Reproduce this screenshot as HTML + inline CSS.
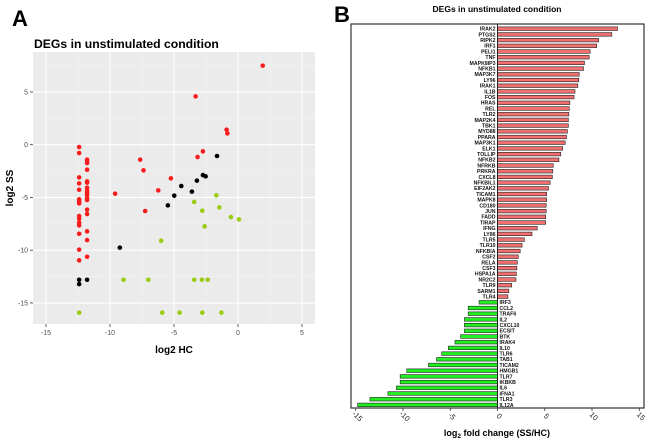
<!DOCTYPE html>
<html><head><meta charset="utf-8"><style>
body{margin:0;background:#fff;font-family:"Liberation Sans",sans-serif;}
svg{display:block}
</style></head><body>
<svg id="s" width="650" height="442" viewBox="0 0 650 442" xmlns="http://www.w3.org/2000/svg">
<text x="12" y="26" font-size="22" font-weight="bold">A</text>
<text x="334" y="22" font-size="22" font-weight="bold">B</text>
<text x="34" y="48" font-size="12.2" font-weight="bold">DEGs in unstimulated condition</text>
<rect x="33" y="52" width="282" height="272" fill="#EBEBEB"/>
<g id="sg"></g>
<g id="sp"></g>
<text x="174" y="353" font-size="10" font-weight="bold" text-anchor="middle">log2 HC</text>
<text transform="translate(13,188) rotate(-90)" font-size="10" font-weight="bold" text-anchor="middle">log2 SS</text>
<text x="497" y="12" font-size="8.5" font-weight="bold" text-anchor="middle">DEGs in unstimulated condition</text>
<rect x="351" y="24" width="293" height="384" fill="none" stroke="#333" stroke-width="1.2"/>
<g id="bb"></g>
<text x="497" y="436" font-size="9" font-weight="bold" text-anchor="middle">log<tspan font-size="6.5" dy="2">2</tspan><tspan dy="-2"> fold change (SS/HC)</tspan></text>
</svg>
<script>
const NS="http://www.w3.org/2000/svg";
function mk(tag,attrs,parent){const e=document.createElementNS(NS,tag);for(const k in attrs)e.setAttribute(k,attrs[k]);parent.appendChild(e);return e;}
// ---- Scatter data ----
const redX=[1.93,-3.31,-0.89,-0.83,-2.74,-3.16,-7.64,-7.38,-5.24,-6.23,-9.6,-7.25,
-12.41,-12.41,-12.41,-12.41,-12.41,-12.41,-12.41,-12.41,-12.41,-12.41,-12.41,-12.41,-12.41,-12.41,-12.41,
-11.79,-11.79,-11.79,-11.79,-11.79,-11.79,-11.79,-11.79,-11.79,-11.79,-11.79,-11.79,-11.79,-11.79,-11.79,-11.79,-11.79];
const redY=[7.49,4.58,1.42,1.07,-0.63,-1.17,-1.42,-2.43,-3.19,-4.33,-4.64,-6.29,
-0.22,-0.79,-3.10,-3.67,-4.27,-5.18,-5.37,-5.56,-6.76,-7.02,-7.39,-7.65,-8.44,-9.95,-10.96,
-1.42,-1.58,-1.74,-2.37,-3.48,-3.60,-4.08,-4.36,-4.58,-4.77,-5.06,-5.24,-6.16,-6.57,-8.21,-9.04,-10.62];
const blackX=[-1.64,-2.74,-2.53,-3.21,-4.43,-3.6,-4.98,-5.48,-9.23,-12.41,-12.41,-11.79];
const blackY=[-1.07,-2.88,-3.0,-3.41,-3.92,-4.45,-4.83,-5.75,-9.76,-12.8,-13.21,-12.8];
const greenX=[-1.69,-3.42,-1.46,-2.79,-0.55,0.08,-2.61,-6.0,-8.94,-7.01,-3.42,-2.82,-2.37,-12.41,-5.92,-4.56,-2.79,-1.30];
const greenY=[-4.8,-5.43,-5.94,-6.26,-6.86,-7.08,-7.74,-9.1,-12.8,-12.8,-12.8,-12.8,-12.8,-15.92,-15.92,-15.92,-15.92,-15.92];
const sxTicks=[-15,-10,-5,0,5];
const syTicks=[5,0,-5,-10,-15];
const sx=v=>238+v*12.8, sy=v=>144.7-v*10.55;
const sg=document.getElementById('sg'), sp=document.getElementById('sp');
[-12.5,-7.5,-2.5,2.5].forEach(v=>{const l=mk('line',{x1:sx(v),x2:sx(v),y1:52,y2:324,stroke:'#F5F5F5','stroke-width':0.5},sg);

});
[7.5,2.5,-2.5,-7.5,-12.5].forEach(v=>{const l=mk('line',{x1:33,x2:315,y1:sy(v),y2:sy(v),stroke:'#F5F5F5','stroke-width':0.5},sg);

});
sxTicks.forEach(v=>{const l=mk('line',{x1:sx(v),x2:sx(v),y1:52,y2:324,stroke:'#fff','stroke-width':1.1},sg);


const k=mk('line',{x1:sx(v),x2:sx(v),y1:324,y2:327,stroke:'#333','stroke-width':0.8},sg);


const t=mk('text',{x:sx(v),y:335,'font-size':7,fill:'#4d4d4d','text-anchor':'middle'},sg);t.textContent=v;

});
syTicks.forEach(v=>{const l=mk('line',{x1:33,x2:315,y1:sy(v),y2:sy(v),stroke:'#fff','stroke-width':1.1},sg);


const k=mk('line',{x1:30,x2:33,y1:sy(v),y2:sy(v),stroke:'#333','stroke-width':0.8},sg);


const t=mk('text',{x:28,y:sy(v)+2.5,'font-size':7,fill:'#4d4d4d','text-anchor':'end'},sg);t.textContent=v;

});
function pts(X,Y,col,name){X.forEach((x,i)=>{const c=mk('circle',{cx:sx(x),cy:sy(Y[i]),r:2.3,fill:col},sp);

});}
pts(redX,redY,'#F81C1C','scatter-point-red');
pts(blackX,blackY,'#000','scatter-point-black');
pts(greenX,greenY,'#99CC11','scatter-point-green');
// ---- Bar data ----
const genes=["IRAK2","PTGS2","RIPK2","IRF1","PELI1","TNF","MAPK8IP3","NFKB1","MAP3K7","LY96","IRAK1","IL1B","FOS","HRAS","REL","TLR2","MAP2K4","TBK1","MYD88","PPARA","MAP3K1","ELK1","TOLLIP","NFKB2","NFRKB","PRKRA","CXCL8","NFKBIL1","EIF2AK2","TICAM1","MAPK8","CD180","JUN","FADD","TIRAP","IFNG","LY86","TLR5","TLR10","NFKBIA","CSF2","RELA","CSF3","HSPA1A","NR2C2","TLR9","SARM1","TLR4",
"IRF3","CCL2","TRAF6","IL2","CXCL10","ECSIT","BTK","IRAK4","IL10","TLR6","TAB1","TICAM2","HMGB1","TLR7","IKBKB","IL6","IFNA1","TLR3","IL12A"];
const foldChange=[12.7,12.1,10.7,10.5,9.8,9.7,9.2,9.1,8.65,8.6,8.5,8.2,8.1,7.66,7.6,7.55,7.5,7.5,7.4,7.3,7.16,6.9,6.7,6.5,5.9,5.85,5.8,5.57,5.4,5.2,5.2,5.15,5.15,5.1,5.1,4.2,3.65,2.84,2.6,2.4,2.2,2.1,2.05,2.0,1.95,1.5,1.2,1.1,
-1.95,-3.1,-3.1,-3.5,-3.5,-3.5,-3.9,-4.5,-5.2,-5.9,-6.45,-7.3,-9.6,-10.3,-10.3,-10.7,-11.6,-13.5,-14.8];
const bxTicks=[-15,-10,-5,0,5,10,15];
const bx=v=>497.5+v*9.45, by=i=>28.7+i*5.7;
const bb=document.getElementById('bb');
genes.forEach((g,i)=>{const v=foldChange[i],y=by(i);
const r=mk('rect',{x:Math.min(bx(0),bx(v)),y:y-1.8,width:Math.abs(bx(v)-bx(0)),height:3.6,fill:v>0?'#F07070':'#22EE22',stroke:'#222','stroke-width':0.6},bb);


const t=mk('text',{x:v>0?bx(0)-2:bx(0)+2,y:y+1.9,'font-size':5.2,'font-weight':'bold','text-anchor':v>0?'end':'start',fill:'#111'},bb);t.textContent=g;

});
const zl=mk('line',{x1:bx(0),x2:bx(0),y1:24,y2:408,stroke:'#222','stroke-width':1},bb);


bxTicks.forEach(v=>{const k=mk('line',{x1:bx(v),x2:bx(v),y1:408,y2:411,stroke:'#333','stroke-width':0.8},bb);


const t=mk('text',{transform:`translate(${bx(v)},${418}) rotate(45)`,'font-size':7.5,'text-anchor':'middle',fill:'#222'},bb);t.textContent=v;

});
</script>
</body></html>
